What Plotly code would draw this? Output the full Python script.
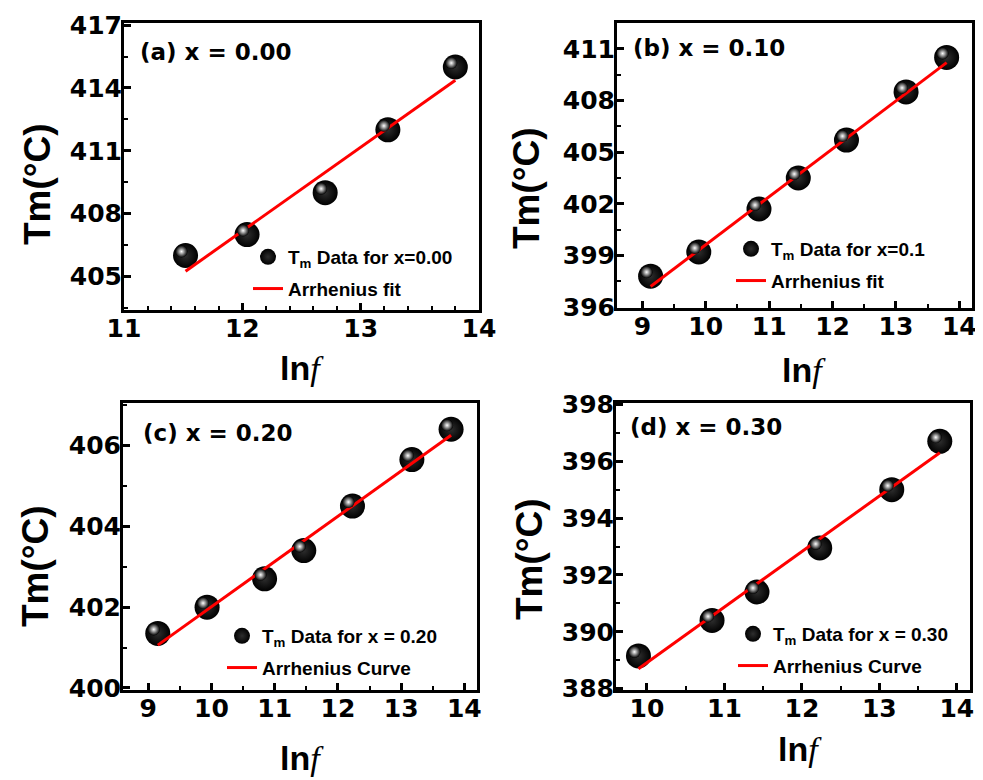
import plotly.graph_objects as go

# page is shown with the browser's default 8px body margin
OFF = 8
W, H = 983 - OFF, 780 - OFF

# ---------------- data ----------------
lnf_a = [11.52, 12.04, 12.70, 13.23, 13.80]
tm_a = [406.0, 407.0, 409.0, 412.0, 415.0]
fit_x_a = [11.52, 13.80]
fit_y_a = [405.25, 414.37]

lnf_b = [9.13, 9.89, 10.84, 11.46, 12.22, 13.16, 13.80]
tm_b = [397.8, 399.2, 401.7, 403.5, 405.7, 408.5, 410.5]
fit_x_b = [9.13, 13.80]
fit_y_b = [397.2, 410.2]

lnf_c = [9.15, 9.93, 10.84, 11.46, 12.23, 13.17, 13.79]
tm_c = [401.35, 402.0, 402.7, 403.4, 404.5, 405.65, 406.4]
fit_x_c = [9.15, 13.79]
fit_y_c = [401.06, 406.25]

lnf_d = [9.89, 10.84, 11.42, 12.23, 13.16, 13.78]
tm_d = [389.15, 390.4, 391.4, 392.95, 395.0, 396.7]
fit_x_d = [9.89, 13.78]
fit_y_d = [388.7, 396.3]

panel_labels = ["(a) x = 0.00", "(b) x = 0.10", "(c) x = 0.20", "(d) x = 0.30"]
data_names = ["T<sub>m</sub> Data for x=0.00", "T<sub>m</sub> Data for x=0.1",
              "T<sub>m</sub> Data for x = 0.20", "T<sub>m</sub> Data for x = 0.30"]
fit_names = ["Arrhenius fit", "Arrhenius fit", "Arrhenius Curve", "Arrhenius Curve"]

# ---------------- layout geometry (screen pixels) ----------------
panels = [
    dict(x=lnf_a, y=tm_a, fx=fit_x_a, fy=fit_y_a,
         box=(124, 479, 23, 310), xr=(11, 14), yr=(403.4, 417.1),
         xd=1, xm=0.2, y0=405, yd=3, ym=1.5,
         leg=(248, 273), lab=(138, 52), yt=(37, 184), xt=(302, 368)),
    dict(x=lnf_b, y=tm_b, fx=fit_x_b, fy=fit_y_b,
         box=(617, 972, 23, 308), xr=(8.6, 14.2), yr=(395.95, 412.5),
         xd=1, xm=0.5, y0=396, yd=3, ym=1.5,
         leg=(731, 265), lab=(631, 48), yt=(527, 188), xt=(804, 370)),
    dict(x=lnf_c, y=tm_c, fx=fit_x_c, fy=fit_y_c,
         box=(123, 477, 403, 690), xr=(8.6, 14.2), yr=(399.95, 407.05),
         xd=1, xm=0.5, y0=400, yd=2, ym=1,
         leg=(222, 652), lab=(141, 433), yt=(35, 566), xt=(302, 758)),
    dict(x=lnf_d, y=tm_d, fx=fit_x_d, fy=fit_y_d,
         box=(616, 970, 403, 690), xr=(9.6, 14.17), yr=(387.95, 398.05),
         xd=1, xm=0.5, y0=388, yd=2, ym=1,
         leg=(733, 650), lab=(628, 427), yt=(529, 559), xt=(800, 749)),
]


def px(v):
    return (v - OFF) / W


def py(v):
    return 1 - (v - OFF) / H


TICKFONT = dict(family="DejaVu Sans", size=25, color="black", weight="bold")
TEXTFONT = "Liberation Sans, Arial"

fig = go.Figure()
layout = dict(width=W, height=H,
              margin=dict(l=0, r=0, t=0, b=0, pad=0, autoexpand=False),
              paper_bgcolor="white", plot_bgcolor="white", annotations=[])

HL_SHIFT = 4  # highlight offset in px (up-left)

for i, p in enumerate(panels):
    n = i + 1
    sfx = "" if n == 1 else str(n)
    hn = n + 4
    x0p, x1p, y0p, y1p = p["box"]
    xdom = [px(x0p), px(x1p)]
    ydom = [py(y1p), py(y0p)]
    leg = "legend" if n == 1 else f"legend{n}"

    axis_common = dict(showline=True, linewidth=3, linecolor="black", mirror=True,
                       ticks="inside", ticklen=7, tickwidth=2.5, tickcolor="black",
                       showgrid=False, zeroline=False, tickfont=TICKFONT, automargin=False)
    layout[f"xaxis{sfx}"] = dict(domain=xdom, range=list(p["xr"]), anchor=f"y{sfx}",
                                 dtick=p["xd"], tick0=0,
                                 minor=dict(dtick=p["xm"], ticks="inside", ticklen=4,
                                            tickwidth=2, tickcolor="black"),
                                 ticklabelstandoff=-6, **axis_common)
    layout[f"yaxis{sfx}"] = dict(domain=ydom, range=list(p["yr"]), anchor=f"x{sfx}",
                                 dtick=p["yd"], tick0=p["y0"],
                                 minor=dict(dtick=p["ym"], ticks="inside", ticklen=4,
                                            tickwidth=2, tickcolor="black"),
                                 ticklabelstandoff=-6, **axis_common)
    # glint overlay axes, shifted a few pixels so the glint sits up-left
    dx = HL_SHIFT * (p["xr"][1] - p["xr"][0]) / (x1p - x0p)
    dy = HL_SHIFT * (p["yr"][1] - p["yr"][0]) / (y1p - y0p)
    layout[f"xaxis{hn}"] = dict(domain=xdom, range=[p["xr"][0] + dx, p["xr"][1] + dx],
                                overlaying=f"x{sfx}" if sfx else "x", anchor=f"y{hn}",
                                visible=False)
    layout[f"yaxis{hn}"] = dict(domain=ydom, range=[p["yr"][0] - dy, p["yr"][1] - dy],
                                overlaying=f"y{sfx}" if sfx else "y", anchor=f"x{hn}",
                                visible=False)

    # data spheres
    fig.add_trace(go.Scatter(
        x=p["x"], y=p["y"], mode="markers", name=data_names[i],
        xaxis=f"x{sfx}", yaxis=f"y{sfx}", legend=leg, legendgroup=f"d{n}",
        marker=dict(size=25, color="black", line=dict(width=0),
                    gradient=dict(type="radial", color="#2e2e2e"))))
    # fit line
    fig.add_trace(go.Scatter(
        x=p["fx"], y=p["fy"], mode="lines", name=fit_names[i],
        xaxis=f"x{sfx}", yaxis=f"y{sfx}", legend=leg, legendgroup=f"f{n}",
        line=dict(color="#ff0000", width=3)))
    # glint
    fig.add_trace(go.Scatter(
        x=p["x"], y=p["y"], mode="markers", showlegend=False, hoverinfo="skip",
        xaxis=f"x{hn}", yaxis=f"y{hn}",
        marker=dict(size=12, color="black", line=dict(width=0),
                    gradient=dict(type="radial", color="white"))))

    layout[leg] = dict(x=px(p["leg"][0]), y=py(p["leg"][1]), xanchor="left",
                       yanchor="middle", bgcolor="rgba(0,0,0,0)",
                       font=dict(family=TEXTFONT, size=19, color="black", weight="bold"),
                       traceorder="grouped", tracegroupgap=4, itemwidth=30)

    layout["annotations"] += [
        dict(text=panel_labels[i], x=px(p["lab"][0]), y=py(p["lab"][1]),
             xref="paper", yref="paper", xanchor="left", yanchor="middle", showarrow=False,
             font=dict(family="DejaVu Sans", size=23, color="black", weight="bold")),
        dict(text="Tm(°C)", x=px(p["yt"][0]), y=py(p["yt"][1]), textangle=-90,
             xref="paper", yref="paper", xanchor="center", yanchor="middle", showarrow=False,
             font=dict(family=TEXTFONT, size=37, color="black", weight="bold")),
        dict(text="ln<span style='font-family:Liberation Serif;font-style:italic;font-weight:normal'>f</span>",
             x=px(p["xt"][0]), y=py(p["xt"][1]),
             xref="paper", yref="paper", xanchor="center", yanchor="middle", showarrow=False,
             font=dict(family=TEXTFONT, size=34, color="black", weight="bold")),
    ]

fig.update_layout(**layout)
fig.write_html("out.html")
